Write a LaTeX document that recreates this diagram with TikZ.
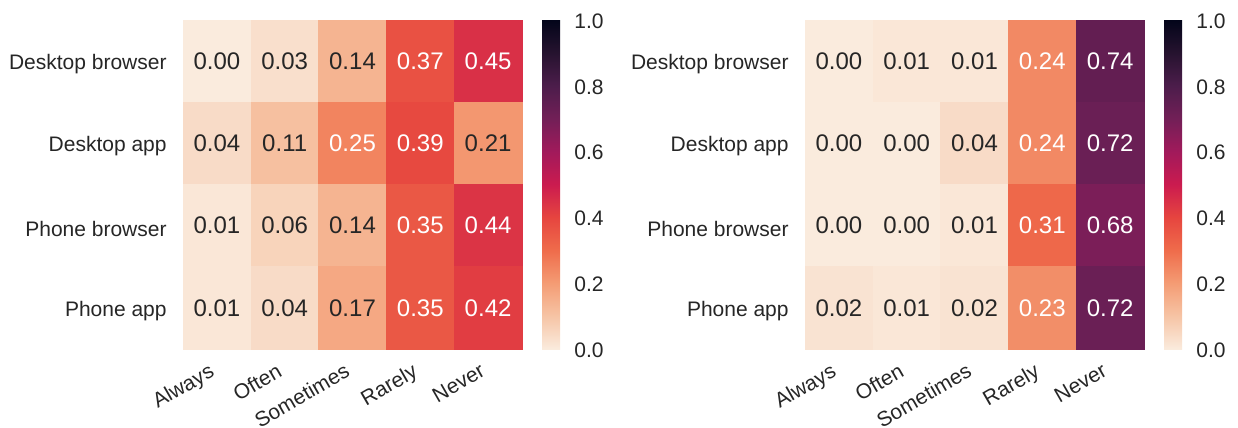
\documentclass[tikz,border=0pt]{standalone}
\usepackage{fontspec}
\setmainfont{Liberation Sans}
\usetikzlibrary{positioning}
% rocket_r colour stops, v = 0.0, 0.1, ..., 1.0
\definecolor{rk0}{HTML}{FAEBDD}
\definecolor{rk1}{HTML}{F6C4A5}
\definecolor{rk2}{HTML}{F49C74}
\definecolor{rk3}{HTML}{EF6C4B}
\definecolor{rk4}{HTML}{E6453F}
\definecolor{rk5}{HTML}{CB1B4F}
\definecolor{rk6}{HTML}{A11A5B}
\definecolor{rk7}{HTML}{721F57}
\definecolor{rk8}{HTML}{4C1D4B}
\definecolor{rk9}{HTML}{26132F}
\definecolor{rk10}{HTML}{03051A}
\definecolor{txtdark}{HTML}{262626}
\pgfdeclareverticalshading{rocketbar}{100bp}{color(0bp)=(rk0); color(25bp)=(rk0);
  color(30bp)=(rk1); color(35bp)=(rk2); color(40bp)=(rk3); color(45bp)=(rk4);
  color(50bp)=(rk5); color(55bp)=(rk6); color(60bp)=(rk7); color(65bp)=(rk8);
  color(70bp)=(rk9); color(75bp)=(rk10); color(100bp)=(rk10)}
% cell colour from value
\newcommand{\setcellcolor}[1]{%
  \pgfmathtruncatemacro{\ci}{min(floor(#1*10),9)}%
  \pgfmathtruncatemacro{\cj}{\ci+1}%
  \pgfmathsetmacro{\ct}{(#1*10-\ci)*100}%
  \colorlet{cellc}{rk\cj!\ct!rk\ci}%
  \pgfmathtruncatemacro{\isdark}{#1>0.22}%
  \ifnum\isdark=1 \colorlet{celltext}{white}\else\colorlet{celltext}{txtdark}\fi}
% one heatmap: name, left edge, rows
\newcommand{\heatpanel}[3]{%
  \foreach \r/\lab/\vals in {#3}{
    \node[rowlab] (#1-row\r) at (#2-16, 23+\r*82.25-41.125) {\lab};
    \foreach \v [count=\c] in \vals {
      \setcellcolor{\v}
      \node[cell,fill=cellc,draw=cellc,text=celltext] (#1-\r-\c) at (#2+\c*67.8-33.9, 20+\r*82.25-41.125) {\v};
    }
  }
  \foreach \nm [count=\c] in {Always,Often,Sometimes,Rarely,Never}
    \node[collab] (#1-col\c) at (#2+\c*67.8-33.9-9, 362) {\nm};
  % colour bar
  \shade[shading=rocketbar] (#2+359,20) rectangle (#2+377,349);
  \foreach \t [count=\k] in {0.0,0.2,0.4,0.6,0.8,1.0}
    \node[ticklab] (#1-tick\k) at (#2+391, 350-\t*329) {\t};
}

\begin{document}
\begin{tikzpicture}[
  x=0.5pt,y=-0.5pt,
  cell/.style={minimum width=33.9pt,minimum height=41.125pt,inner sep=0pt,outer sep=0pt,line width=0.3pt,font=\fontsize{12}{14}\selectfont},
  rowlab/.style={anchor=east,inner sep=0pt,text=txtdark,font=\fontsize{10.5}{12.6}\selectfont},
  collab/.style={anchor=north east,rotate=30,inner sep=0pt,text=txtdark,font=\fontsize{10.5}{12.6}\selectfont},
  ticklab/.style={anchor=west,inner sep=0pt,text=txtdark,font=\fontsize{10.5}{12.6}\selectfont}
]
\useasboundingbox (0,0) rectangle (1238,428);
% first survey
\heatpanel{a}{183}{1/Desktop browser/{0.00,0.03,0.14,0.37,0.45},
  2/Desktop app/{0.04,0.11,0.25,0.39,0.21},
  3/Phone browser/{0.01,0.06,0.14,0.35,0.44},
  4/Phone app/{0.01,0.04,0.17,0.35,0.42}}
% second survey
\heatpanel{b}{805}{1/Desktop browser/{0.00,0.01,0.01,0.24,0.74},
  2/Desktop app/{0.00,0.00,0.04,0.24,0.72},
  3/Phone browser/{0.00,0.00,0.01,0.31,0.68},
  4/Phone app/{0.02,0.01,0.02,0.23,0.72}}
\end{tikzpicture}
\end{document}
